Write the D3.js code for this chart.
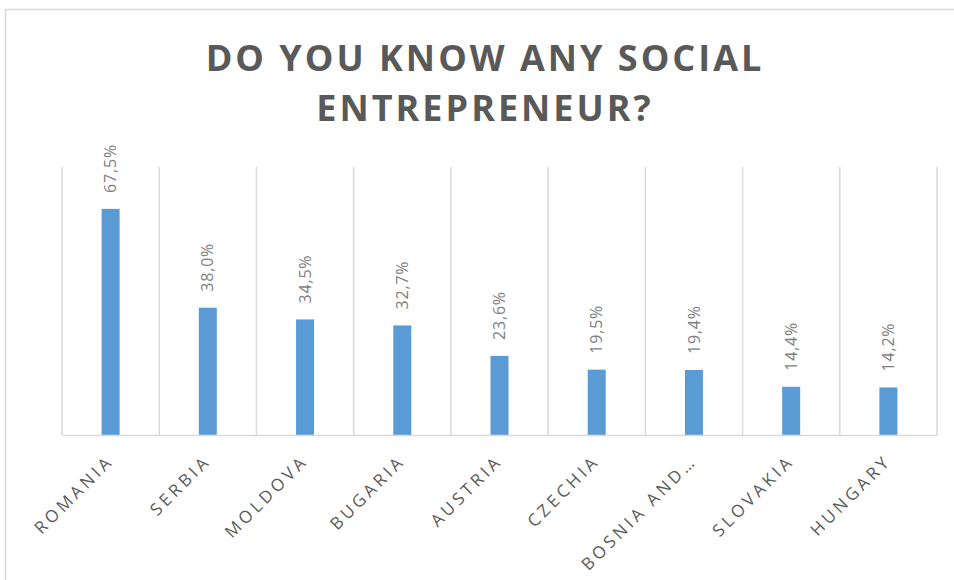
<!DOCTYPE html>
<html>
<head>
<meta charset="utf-8">
<script src="https://cdn.jsdelivr.net/npm/d3@7"></script>
<style>
  html, body { margin: 0; padding: 0; background: #fff; }
  svg { display: block; }
</style>
</head>
<body>
<svg id="chart" width="954" height="580"></svg>
<script>
const categories = ["ROMANIA", "SERBIA", "MOLDOVA", "BUGARIA", "AUSTRIA", "CZECHIA", "BOSNIA AND\u2026", "SLOVAKIA", "HUNGARY"];
const values = [67.5, 38.0, 34.5, 32.7, 23.6, 19.5, 19.4, 14.4, 14.2];
const valueLabels = ["67,5%", "38,0%", "34,5%", "32,7%", "23,6%", "19,5%", "19,4%", "14,4%", "14,2%"];
const titleLines = ["DO YOU KNOW ANY SOCIAL", "ENTREPRENEUR?"];

const svg = d3.select("#chart");
const W = 954, H = 580;
const margin = { top: 167, right: 17, bottom: 145, left: 62 };
const innerW = W - margin.left - margin.right;
const innerH = H - margin.top - margin.bottom;

// chart border
svg.append("rect")
  .attr("x", 5.5).attr("y", 9.5)
  .attr("width", 970).attr("height", 600)
  .attr("fill", "#fff")
  .attr("stroke", "#d9d9d9").attr("stroke-width", 1.5);

// title
svg.append("g").selectAll("text")
  .data(titleLines)
  .join("text")
  .attr("x", 485)
  .attr("y", (d, i) => 71 + i * 50)
  .attr("text-anchor", "middle")
  .attr("font-family", "'Open Sans', sans-serif")
  .attr("font-weight", 700)
  .attr("font-size", 36)
  .attr("letter-spacing", 3)
  .attr("fill", "#595959")
  .text(d => d);

const g = svg.append("g").attr("transform", `translate(${margin.left},${margin.top})`);

const x = d3.scaleBand().domain(categories).range([0, innerW]).padding(0);
const y = d3.scaleLinear().domain([0, 80]).range([innerH, 0]);
const barW = 18;

// vertical gridlines at category boundaries
const bounds = categories.map(c => x(c)).concat([innerW]);
g.append("g").selectAll("line")
  .data(bounds)
  .join("line")
  .attr("x1", d => d).attr("x2", d => d)
  .attr("y1", 0).attr("y2", innerH)
  .attr("stroke", "#d9d9d9").attr("stroke-width", 1.5);

// bars
g.append("g").selectAll("rect")
  .data(values)
  .join("rect")
  .attr("x", (d, i) => x(categories[i]) + x.bandwidth() / 2 - barW / 2)
  .attr("y", d => y(d))
  .attr("width", barW)
  .attr("height", d => innerH - y(d))
  .attr("fill", "#5b9bd5");

// x axis
const xAxis = g.append("g")
  .attr("transform", `translate(0,${innerH})`)
  .call(d3.axisBottom(x).tickSize(0).tickPadding(0));
xAxis.select(".domain").attr("stroke", "#d9d9d9").attr("stroke-width", 1.5);
xAxis.selectAll(".tick text")
  .attr("font-family", "'Open Sans', sans-serif")
  .attr("font-size", 17)
  .attr("letter-spacing", 3.6)
  .attr("fill", "#595959")
  .attr("text-anchor", "end")
  .attr("dy", 0)
  .attr("y", 0)
  .attr("transform", "translate(4,27) rotate(-45)");

// data labels
g.append("g").selectAll("text")
  .data(values)
  .join("text")
  .attr("transform", (d, i) => `translate(${x(categories[i]) + x.bandwidth() / 2},${y(d) - 16}) rotate(-90)`)
  .attr("dy", "0.35em")
  .attr("text-anchor", "start")
  .attr("font-family", "'Open Sans', sans-serif")
  .attr("font-size", 16)
  .attr("letter-spacing", 0.8)
  .attr("fill", "#7f7f7f")
  .text((d, i) => valueLabels[i]);
</script>
</body>
</html>
